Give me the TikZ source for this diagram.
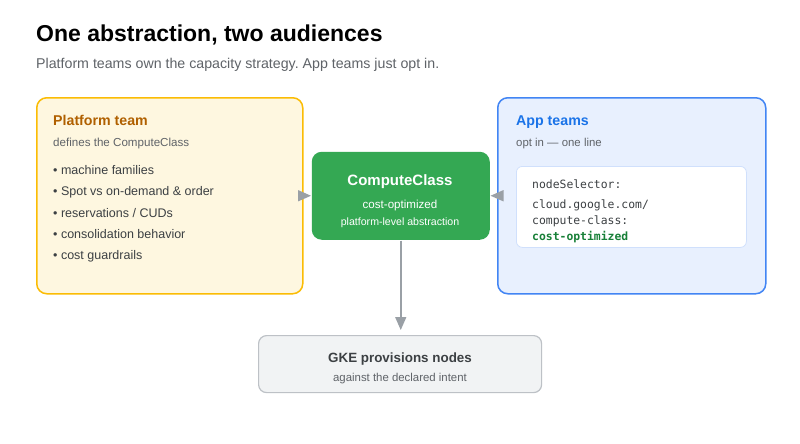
\documentclass[tikz,border=0pt]{standalone}
\usepackage{fontspec}
\setmainfont{Liberation Sans}
\setmonofont{DejaVu Sans Mono}
\usetikzlibrary{arrows.meta}
\frenchspacing

\definecolor{ptfill}{HTML}{FEF7E0}
\definecolor{ptline}{HTML}{FBBC04}
\definecolor{pttext}{HTML}{B06000}
\definecolor{apfill}{HTML}{E8F0FE}
\definecolor{apline}{HTML}{4285F4}
\definecolor{aptext}{HTML}{1A73E8}
\definecolor{ccfill}{HTML}{34A853}
\definecolor{codegreen}{HTML}{188038}
\definecolor{gkfill}{HTML}{F1F3F4}
\definecolor{gkline}{HTML}{BDC1C6}
\definecolor{subgray}{HTML}{5F6368}
\definecolor{bodytext}{HTML}{3C4043}
\definecolor{arrowgray}{HTML}{9AA0A6}

\tikzset{
  panel/.style={draw, line width=1.5pt, rounded corners=10pt, anchor=north west, inner sep=0pt},
  txt/.style={anchor=base west, inner sep=0pt},
  ctxt/.style={anchor=base, inner sep=0pt},
  flow/.style={draw=arrowgray, line width=1.5pt, -{Triangle[length=13pt, width=11pt]}}
}

\begin{document}
\begin{tikzpicture}[x=1pt, y=-1pt]
    \useasboundingbox[fill=white] (0,0) rectangle (800,444);

    % Titel und Untertitel
    \node[txt] (title) at (36,42) {\fontsize{23}{26}\selectfont\bfseries One abstraction, two audiences};
    \node[txt, text=subgray] (subtitle) at (36,69) {\fontsize{14.2}{17}\selectfont Platform teams own the capacity strategy. App teams just opt in.};

    % Platform team
    \node[panel, draw=ptline, fill=ptfill, minimum width=266pt, minimum height=196pt] (platform) at (36,97) {};
    \node[txt, text=pttext] (pthead) at (53,125) {\fontsize{14.2}{17}\selectfont\bfseries Platform team};
    \node[txt, text=subgray] (ptsub) at (53,146) {\fontsize{11.6}{13}\selectfont defines the ComputeClass};
    \foreach \t [count=\i] in {machine families, Spot vs on-demand \& order, reservations / CUDs, consolidation behavior, cost guardrails}
      \node[txt, text=bodytext] (bullet\i) at (53,153.5+21.2*\i) {\fontsize{12.5}{14}\selectfont\textbullet\ \t};

    % ComputeClass
    \node[panel, draw=none, fill=ccfill, minimum width=178pt, minimum height=88pt] (cc) at (311,151) {};
    \node[ctxt, text=white] (cchead) at (400,185.5) {\fontsize{15}{17}\selectfont\bfseries ComputeClass};
    \node[ctxt, text=white] (ccsub) at (400,208) {\fontsize{11.6}{13}\selectfont cost-optimized};
    \node[ctxt, text=white] (ccsub2) at (400,225) {\fontsize{10.6}{12}\selectfont platform-level abstraction};

    % App teams
    \node[panel, draw=apline, fill=apfill, minimum width=268pt, minimum height=196pt] (app) at (497,97) {};
    \node[txt, text=aptext] (aphead) at (516,125) {\fontsize{14.2}{17}\selectfont\bfseries App teams};
    \node[txt, text=subgray] (apsub) at (516,146) {\fontsize{11.4}{13}\selectfont opt in — one line};
    \node[panel, line width=0.8pt, draw=apline!25, fill=white, rounded corners=6pt, minimum width=230pt, minimum height=81pt] (code) at (516,166) {};
    \node[txt, text=bodytext] (code1) at (532,188.5) {\fontsize{11.4}{13}\selectfont\ttfamily nodeSelector:};
    \node[txt, text=bodytext] (code2) at (532,208.5) {\fontsize{11.4}{13}\selectfont\ttfamily cloud.google.com/};
    \node[txt, text=bodytext] (code3) at (532,224.5) {\fontsize{11.4}{13}\selectfont\ttfamily compute-class:};
    \node[txt, text=codegreen] (code4) at (532,240.5) {\fontsize{11.4}{13}\selectfont\ttfamily\bfseries cost-optimized};

    % GKE
    \node[panel, line width=1.2pt, draw=gkline, fill=gkfill, rounded corners=8pt, minimum width=283pt, minimum height=57pt] (gke) at (258,335) {};
    \node[ctxt, text=bodytext] (gkhead) at (400,362) {\fontsize{13.4}{15}\selectfont\bfseries GKE provisions nodes};
    \node[ctxt, text=subgray] (gksub) at (400,381) {\fontsize{11.4}{13}\selectfont against the declared intent};

    % Pfeile
    \draw[flow] (platform.east |- cc.west) -- (cc.west);
    \draw[flow] (app.west |- cc.east) -- (cc.east);
    \draw[flow, shorten >=5pt] (cc.south) -- (cc.south |- gke.north);
\end{tikzpicture}
\end{document}
